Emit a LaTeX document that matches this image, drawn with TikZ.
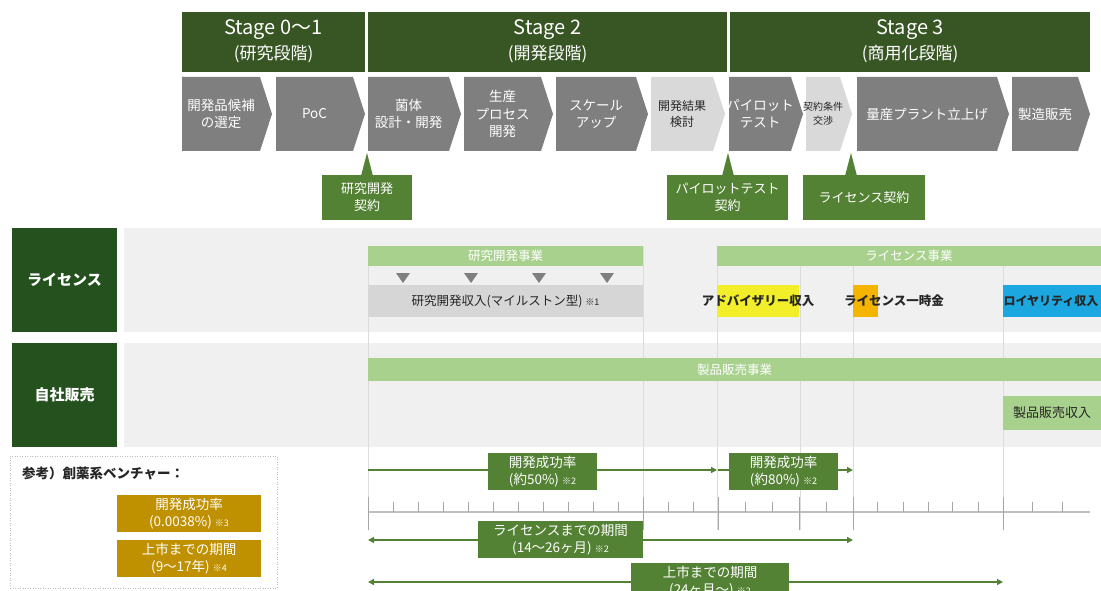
\documentclass[tikz,border=0pt]{standalone}
\usepackage{fontspec}
\setmainfont{Noto Sans CJK JP}
\usetikzlibrary{arrows.meta}
\definecolor{hdrgreen}{HTML}{375623}
\definecolor{labgreen}{HTML}{25511F}
\definecolor{midgreen}{HTML}{548235}
\definecolor{ltgreen}{HTML}{A9D18E}
\definecolor{chevgray}{HTML}{7F7F7F}
\definecolor{chevlt}{HTML}{D9D9D9}
\definecolor{rowbg}{HTML}{F0F0F0}
\definecolor{bandgray}{HTML}{D6D6D6}
\definecolor{gridc}{HTML}{DCDCDC}
\definecolor{tickc}{HTML}{A6A6A6}
\definecolor{axisc}{HTML}{BFBFBF}
\definecolor{gold}{HTML}{BF9000}
\definecolor{yel}{HTML}{F2EF2A}
\definecolor{org}{HTML}{F5B400}
\definecolor{blu}{HTML}{1DA7E0}
\definecolor{dtxt}{HTML}{262626}
\newcommand\kome[1]{{\fontsize{9}{10}\selectfont #1}}
\newcommand\mychev[7]{%
  \pgfmathsetmacro\chvA{#3-12}%
  \pgfmathsetmacro\chvM{(#2+#3-12)/2}%
  \fill[#4] (#2,77) -- (\chvA,77) -- (#3,114) -- (\chvA,151) -- (#2,151) -- cycle;
  \node[text=#5,align=center,font=#6,inner sep=0pt] (#1) at (\chvM,114) {#7};
}
% name, style, x1, y1, x2, y2, text
\newcommand\rbox[7]{%
  \pgfmathsetmacro\rbW{#5-#3}\pgfmathsetmacro\rbH{#6-#4}%
  \pgfmathsetmacro\rbX{(#3+#5)/2}\pgfmathsetmacro\rbY{(#4+#6)/2}%
  \node[box,#2,minimum width=\rbW pt,minimum height=\rbH pt] (#1) at (\rbX,\rbY) {#7};%
}
\begin{document}
\begin{tikzpicture}[x=1pt,y=-1pt,
  box/.style={inner sep=0pt,outer sep=0pt},
  hdr/.style={fill=hdrgreen},
  htxt/.style={inner sep=0pt,text=white},
  callout/.style={fill=midgreen,text=white,align=center,font=\fontsize{13}{17}\selectfont},
  bar/.style={fill=ltgreen,text=white,font=\fontsize{12.5}{15}\selectfont},
  lab/.style={fill=labgreen,text=white,font=\fontsize{15}{18}\selectfont\bfseries},
  rowtxt/.style={inner sep=0pt,text=dtxt,font=\fontsize{12.5}{16}\selectfont\bfseries},
  tl/.style={draw=midgreen,line width=1.6pt},
  tip/.style={-{Triangle[length=6pt,width=6pt]}},
  tiptwo/.style={{Triangle[length=6pt,width=6pt]}-{Triangle[length=6pt,width=6pt]}},
  tlbox/.style={fill=midgreen,text=white,align=center,font=\fontsize{13.5}{17}\selectfont},
  goldbox/.style={fill=gold,text=white,align=center,font=\fontsize{13.5}{17}\selectfont},
  gridl/.style={draw=gridc,line width=0.8pt},
  tickl/.style={draw=tickc,line width=1pt},
]
\useasboundingbox (0,0) rectangle (1101,591);
\fill[white] (0,0) rectangle (1101,591);

% ---------- stage headers
\rbox{s01}{hdr}{182}{12}{365}{72}{}
\rbox{s2}{hdr}{368}{12}{727}{72}{}
\rbox{s3}{hdr}{730}{12}{1090}{72}{}
\node[htxt,font=\fontsize{20}{24}\selectfont] (s01a) at (273.5,30) {Stage 0～1};
\node[htxt,font=\fontsize{17}{20}\selectfont] (s01b) at (273.5,54) {(研究段階)};
\node[htxt,font=\fontsize{20}{24}\selectfont] (s2a) at (547.5,30) {Stage 2};
\node[htxt,font=\fontsize{17}{20}\selectfont] (s2b) at (547.5,54) {(開発段階)};
\node[htxt,font=\fontsize{20}{24}\selectfont] (s3a) at (910,30) {Stage 3};
\node[htxt,font=\fontsize{17}{20}\selectfont] (s3b) at (910,54) {(商用化段階)};

% ---------- chevrons
\def\cf{\fontsize{13.5}{17.5}\selectfont}
\mychev{c1}{182}{272}{chevgray}{white}{\cf}{開発品候補\\の選定}
\mychev{c2}{276}{365}{chevgray}{white}{\cf}{PoC}
\mychev{c3}{368}{461}{chevgray}{white}{\cf}{菌体\\設計・開発}
\mychev{c4}{464}{553}{chevgray}{white}{\cf}{生産\\プロセス\\開発}
\mychev{c5}{556}{648}{chevgray}{white}{\cf}{スケール\\アップ}
\mychev{c6}{651}{725}{chevlt}{dtxt}{\fontsize{12}{16}\selectfont}{開発結果\\検討}
\mychev{c7}{729}{803}{chevgray}{white}{\cf}{パイロット\\テスト}
\mychev{c8}{806}{852}{chevlt}{dtxt}{\fontsize{10}{14}\selectfont}{契約条件\\交渉}
\mychev{c9}{857}{1009}{chevgray}{white}{\cf}{量産プラント立上げ}
\mychev{c10}{1012}{1090}{chevgray}{white}{\cf}{製造販売}

% ---------- callouts
\rbox{k1}{callout}{322}{175}{412}{220}{研究開発\\契約}
\rbox{k2}{callout}{667}{175}{788}{220}{パイロットテスト\\契約}
\rbox{k3}{callout}{803}{175}{925}{220}{ライセンス契約}
\coordinate (k1p) at (367,153);
\coordinate (k2p) at (728,153);
\coordinate (k3p) at (851,153);
\fill[midgreen] (361,176) -- (k1p) -- (373,176) -- cycle;
\fill[midgreen] (722,176) -- (k2p) -- (734,176) -- cycle;
\fill[midgreen] (845,176) -- (k3p) -- (857,176) -- cycle;

% ---------- rows
\fill[rowbg] (124,228) rectangle (1101,332);
\fill[rowbg] (124,343) rectangle (1101,447);
\rbox{labL}{lab}{12}{228}{117}{332}{ライセンス}
\rbox{labS}{lab}{12}{343}{117}{447}{自社販売}
\foreach \gx in {368,643,717,800,853,1003} \draw[gridl] (\gx,246) -- (\gx,530);

\rbox{barRD}{bar}{368}{246}{643}{266}{研究開発事業}
\rbox{barLic}{bar}{717}{246}{1101}{266}{ライセンス事業}
\rbox{barSales}{bar}{368}{358}{1101}{381}{製品販売事業}

\foreach \tx in {403,471,539,607} \fill[chevgray] (\tx-7,273) -- (\tx+7,273) -- (\tx,283) -- cycle;
\rbox{band}{fill=bandgray,text=dtxt,font=\fontsize{12.5}{15}\selectfont}{368}{285}{643}{317}{研究開発収入(マイルストン型) \kome{※1}}

\rbox{advbox}{fill=yel}{717}{285}{799}{317}{}
\rbox{lumpbox}{fill=org}{853}{285}{878}{317}{}
\rbox{roybox}{fill=blu}{1003}{285}{1101}{317}{}
\node[rowtxt] (adv) at (758,301) {アドバイザリー収入};
\node[rowtxt] (lump) at (894,301) {ライセンス一時金};
\node[rowtxt,font=\fontsize{12}{16}\selectfont\bfseries] (roy) at (1051,301) {ロイヤリティ収入};

\rbox{salesInc}{fill=ltgreen,text=dtxt,font=\fontsize{13}{16}\selectfont}{1003}{396}{1101}{430}{製品販売収入}

% ---------- reference box
\rbox{refbox}{draw=axisc,line width=1pt,dash pattern=on 1pt off 1.5pt}{10}{456}{277}{588}{}
\node[anchor=west,inner sep=0pt,text=dtxt,font=\fontsize{13.5}{16}\selectfont\bfseries] (reft) at (22,473) {参考）創薬系ベンチャー：};
\rbox{g1}{goldbox}{117}{495}{261}{532}{開発成功率\\(0.0038\%) \kome{※3}}
\rbox{g2}{goldbox}{117}{540}{261}{577}{上市までの期間\\(9～17年) \kome{※4}}

% ---------- axis
\draw[draw=axisc,line width=1.2pt] (368,512) -- (1090,512);
\foreach \mx in {368,643,718,799,853,1003} \draw[tickl] (\mx,497) -- (\mx,530);
\foreach \mx in {393,418,443,468,493,518,543,568,593,618,668,693,745,772,826,877,903,928,952,978,1032,1062}
  \draw[tickl] (\mx,502) -- (\mx,512);

% ---------- timeline arrows
\coordinate (a1s) at (368,470); \coordinate (a1e) at (717,470);
\coordinate (a2s) at (718,470); \coordinate (a2e) at (853,470);
\coordinate (a3s) at (368,540); \coordinate (a3e) at (853,540);
\coordinate (a4s) at (368,582); \coordinate (a4e) at (1003,582);
\draw[tl,tip] (a1s) -- (a1e);
\draw[tl,tip] (a2s) -- (a2e);
\draw[tl,tiptwo] (a3s) -- (a3e);
\draw[tl,tiptwo] (a4s) -- (a4e);
\rbox{sr1}{tlbox}{488}{453}{597}{490}{開発成功率\\(約50\%) \kome{※2}}
\rbox{sr2}{tlbox}{729}{453}{838}{490}{開発成功率\\(約80\%) \kome{※2}}
\rbox{lp}{tlbox}{478}{521}{643}{558}{ライセンスまでの期間\\(14～26ヶ月) \kome{※2}}
\rbox{mp}{tlbox}{631}{563}{789}{600}{上市までの期間\\(24ヶ月～) \kome{※2}}
\end{tikzpicture}
\end{document}
